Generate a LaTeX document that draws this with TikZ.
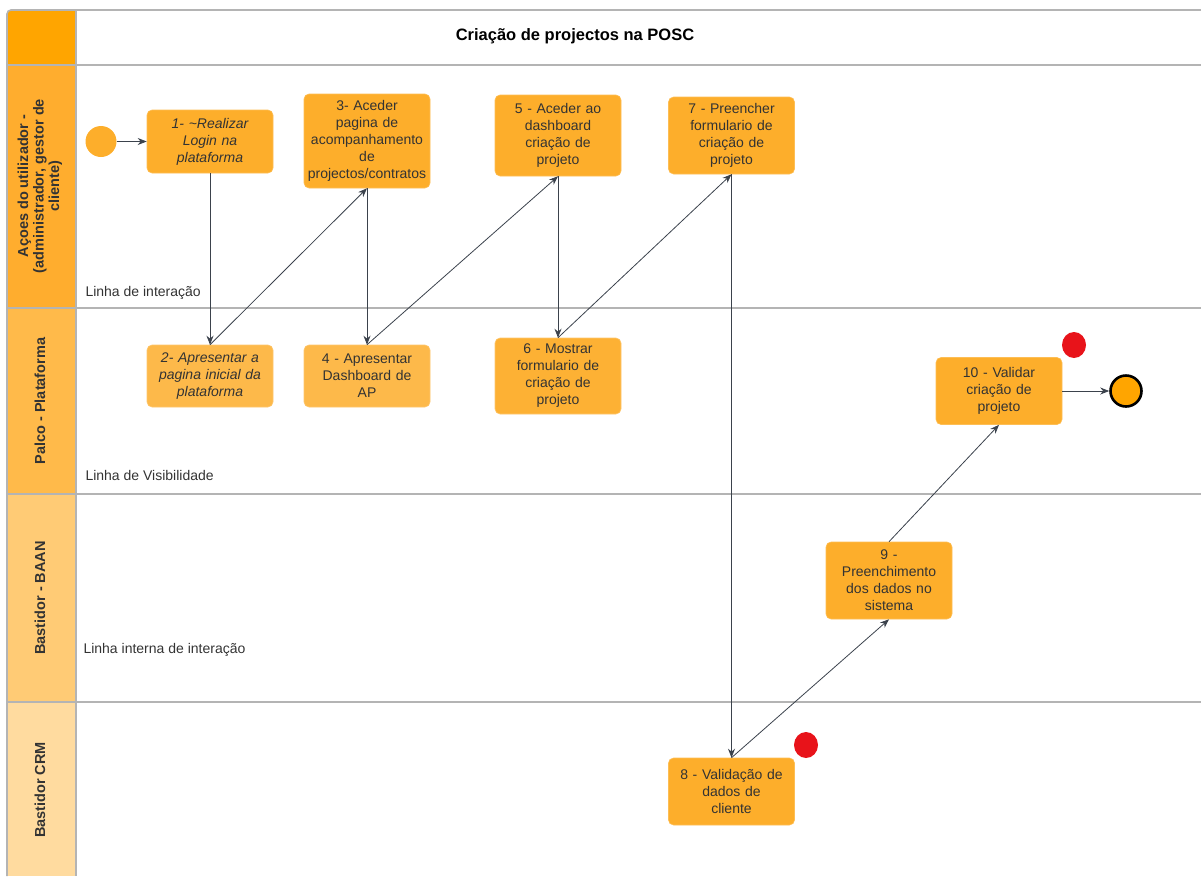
\documentclass[tikz,border=0pt]{standalone}
\usepackage{fontspec}
\setmainfont{Liberation Sans}
\usetikzlibrary{arrows.meta}
\definecolor{gridline}{HTML}{B4B4B4}
\definecolor{headfill}{HTML}{FFA500}
\definecolor{laneA}{HTML}{FFAD2E}
\definecolor{laneB}{HTML}{FFBA4A}
\definecolor{laneC}{HTML}{FFCB75}
\definecolor{laneD}{HTML}{FFDB9F}
\definecolor{boxA}{HTML}{FDAE2B}
\definecolor{boxB}{HTML}{FDB94A}
\definecolor{ink}{HTML}{333333}
\definecolor{wire}{HTML}{3B424C}
\definecolor{alert}{HTML}{E8131A}
\begin{document}
\begin{tikzpicture}[x=1pt,y=-1pt,
  stepbox/.style={draw=boxA!80!white, line width=0.6pt, fill=boxA, rounded corners=5pt,
    minimum width=126pt, text width=122pt, align=center, inner sep=2pt,
    text=ink, font=\fontsize{14}{17}\selectfont},
  lightbox/.style={stepbox, fill=boxB, draw=boxB!80!white},
  lanelabel/.style={rotate=90, align=center, text=ink, font=\bfseries\fontsize{14.5}{15.5}\selectfont},
  linelabel/.style={anchor=west, text=ink, font=\fontsize{14}{16}\selectfont},
  flow/.style={draw=wire, line width=0.8pt, -{Stealth[length=9pt,width=7pt]}}
]
\useasboundingbox (0,0) rectangle (1201,876);

% lane header column fills
\fill[headfill, rounded corners=4pt] (7,65) -- (7,10) -- (76,10) -- (76,65) -- cycle;
\fill[laneA] (7,65) rectangle (76,308);
\fill[laneB] (7,308) rectangle (76,494);
\fill[laneC] (7,494) rectangle (76,702);
\fill[laneD] (7,702) rectangle (76,876);

% frame and lane separators
\begin{scope}[draw=gridline, line width=1.6pt]
  \draw[rounded corners=4pt] (7,876) -- (7,10) -- (1201,10);
  \draw (76,10) -- (76,876);
  \foreach \yy in {65,308,494,702} \draw (7,\yy) -- (1201,\yy);
\end{scope}

% title
\node[text=black, font=\bfseries\fontsize{16.5}{19}\selectfont] (title) at (575,36) {Criação de projectos na POSC};

% lane labels
\node[lanelabel] (laneone) at (40,186) {Açoes do utilizador -\\(administrador, gestor de\\cliente)};
\node[lanelabel] (lanetwo) at (40,401) {Palco - Plataforma};
\node[lanelabel] (lanethree) at (40,598) {Bastidor - BAAN};
\node[lanelabel] (lanefour) at (40,790) {Bastidor CRM};

% interaction line labels
\node[linelabel] (lblA) at (82,293) {Linha de interação};
\node[linelabel] (lblB) at (82,475) {Linha de Visibilidade};
\node[linelabel] (lblC) at (80,650) {Linha interna de interação};

% start and end events
\node[circle, fill=boxA, minimum size=31pt, inner sep=0pt] (start) at (101,141.5) {};
\node[circle, fill=headfill, draw=black, line width=2.6pt, minimum size=31pt, inner sep=0pt] (finish) at (1126,391) {};

% process steps
\node[stepbox, minimum height=63pt] (s1) at (210,141.5) {\itshape 1- \textasciitilde Realizar\\Login na\\plataforma};
\node[stepbox, minimum height=94pt] (s3) at (367,141) {3- Aceder\\pagina de\\acompanhamento\\de\\projectos/contratos};
\node[stepbox, minimum height=81pt] (s5) at (558,135.5) {5 - Aceder ao\\dashboard\\criação de\\projeto};
\node[stepbox, minimum height=77pt] (s7) at (731.5,135.5) {7 - Preencher\\formulario de\\criação de\\projeto};
\node[lightbox, minimum height=62pt] (s2) at (210,376) {\itshape 2- Apresentar a\\pagina inicial da\\plataforma};
\node[lightbox, minimum height=62pt] (s4) at (367,376) {4 - Apresentar\\Dashboard de\\AP};
\node[lightbox, fill=boxA!70!boxB, minimum height=76pt] (s6) at (558,376) {6 - Mostrar\\formulario de\\criação de\\projeto};
\node[stepbox, minimum height=67pt] (s10) at (999,391) {10 - Validar\\criação de\\projeto};
\node[stepbox, minimum height=77pt] (s9) at (889,580.5) {9 -\\Preenchimento\\dos dados no\\sistema};
\node[stepbox, minimum height=67pt] (s8) at (731.5,791.5) {8 - Validação de\\dados de\\cliente};

% attention markers
\fill[alert] (1074,345) ellipse (12pt and 13pt);
\fill[alert] (806,745) ellipse (12pt and 13pt);

% flow connectors
\draw[flow] (start) -- (s1);
\draw[flow] (s1.south) -- (s2.north);
\draw[flow] (s2.north) -- (s3.south);
\draw[flow] (s3.south) -- (s4.north);
\draw[flow] (s4.north) -- (s5.south);
\draw[flow] (s5.south) -- (s6.north);
\draw[flow] (s6.north) -- (s7.south);
\draw[flow] (s7.south) -- (s8.north);
\draw[flow] (s8.north) -- (s9.south);
\draw[flow] (s9.north) -- (s10.south);
\draw[flow] (s10.east) -- (finish.west);
\end{tikzpicture}
\end{document}
